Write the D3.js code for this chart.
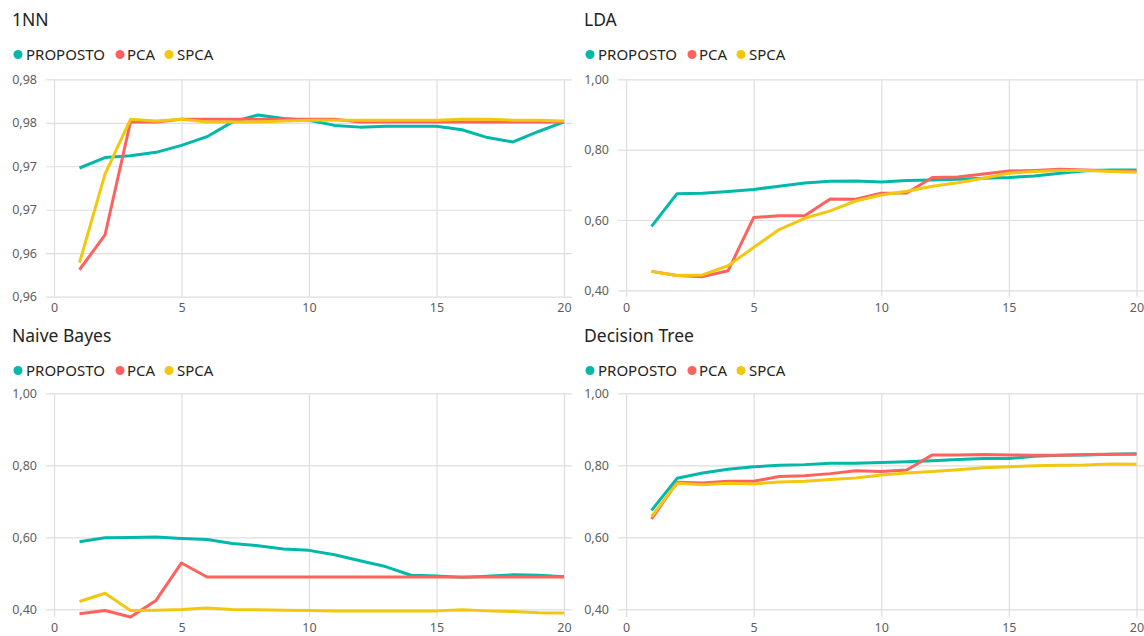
<!DOCTYPE html>
<html>
<head>
<meta charset="utf-8">
<script src="https://cdn.jsdelivr.net/npm/d3@7"></script>
<style>
  html, body { margin: 0; padding: 0; background: #ffffff; }
  svg { display: block; font-family: "Segoe UI", "Noto Sans", "Open Sans", sans-serif; }
</style>
</head>
<body>
<svg id="chart" width="1144" height="636"></svg>
<script>
// Number of components on the x axis
const components = d3.range(1, 21);
const xTicks = [0, 5, 10, 15, 20];
const seriesNames = ["PROPOSTO", "PCA", "SPCA"];
const seriesColors = ["#01B8AA", "#FD625E", "#F2C80F"];

// 1NN accuracy
const nnProposto = [0.9748, 0.9760, 0.9762, 0.9766, 0.9774, 0.9784, 0.9801, 0.9809, 0.9805, 0.9803,
                    0.9797, 0.9795, 0.9796, 0.9796, 0.9796, 0.9792, 0.9783, 0.9778, 0.9790, 0.9801];
const nnPca      = [0.9631, 0.9671, 0.9801, 0.9801, 0.9804, 0.9804, 0.9804, 0.9804, 0.9804, 0.9804,
                    0.9804, 0.9801, 0.9801, 0.9801, 0.9801, 0.9801, 0.9801, 0.9801, 0.9801, 0.9801];
const nnSpca     = [0.9639, 0.9741, 0.9804, 0.9802, 0.9804, 0.9801, 0.9801, 0.9801, 0.9802, 0.9803,
                    0.9803, 0.9803, 0.9803, 0.9803, 0.9803, 0.9804, 0.9804, 0.9803, 0.9803, 0.9802];
const nnTicks = [0.96, 0.965, 0.97, 0.975, 0.98, 0.985];

// LDA accuracy
const ldaProposto = [0.582, 0.675, 0.676, 0.681, 0.687, 0.696, 0.705, 0.710, 0.711, 0.708,
                     0.712, 0.714, 0.716, 0.719, 0.721, 0.725, 0.733, 0.740, 0.742, 0.742];
const ldaPca      = [0.454, 0.442, 0.439, 0.456, 0.607, 0.612, 0.612, 0.660, 0.659, 0.676,
                     0.677, 0.721, 0.722, 0.731, 0.739, 0.741, 0.744, 0.742, 0.740, 0.739];
const ldaSpca     = [0.454, 0.442, 0.444, 0.470, 0.522, 0.573, 0.605, 0.626, 0.654, 0.671,
                     0.682, 0.696, 0.706, 0.719, 0.733, 0.738, 0.741, 0.741, 0.738, 0.736];

// Naive Bayes accuracy
const nbProposto = [0.588, 0.599, 0.600, 0.601, 0.597, 0.594, 0.583, 0.577, 0.568, 0.564,
                    0.552, 0.535, 0.519, 0.495, 0.493, 0.489, 0.492, 0.496, 0.495, 0.491];
const nbPca      = [0.388, 0.397, 0.379, 0.425, 0.529, 0.490, 0.490, 0.490, 0.490, 0.490,
                    0.490, 0.490, 0.490, 0.490, 0.490, 0.490, 0.490, 0.490, 0.490, 0.490];
const nbSpca     = [0.422, 0.445, 0.397, 0.398, 0.400, 0.404, 0.400, 0.399, 0.398, 0.397,
                    0.396, 0.396, 0.396, 0.396, 0.396, 0.399, 0.396, 0.394, 0.391, 0.390];

// Decision Tree accuracy
const dtProposto = [0.675, 0.764, 0.779, 0.789, 0.796, 0.800, 0.802, 0.806, 0.806, 0.808,
                    0.810, 0.813, 0.816, 0.819, 0.819, 0.825, 0.828, 0.829, 0.831, 0.832];
const dtPca      = [0.651, 0.753, 0.751, 0.756, 0.756, 0.769, 0.771, 0.777, 0.785, 0.783,
                    0.787, 0.829, 0.829, 0.830, 0.829, 0.828, 0.828, 0.830, 0.831, 0.831];
const dtSpca     = [0.658, 0.750, 0.746, 0.750, 0.748, 0.754, 0.756, 0.761, 0.765, 0.773,
                    0.779, 0.783, 0.788, 0.793, 0.796, 0.799, 0.800, 0.801, 0.804, 0.803];

const accTicks = [0.4, 0.6, 0.8, 1.0];

// Portuguese number format: comma as decimal separator
const locale = d3.formatLocale({ decimal: ",", thousands: ".", grouping: [3], currency: ["", ""] });
const fmt = locale.format(".2f");

const panels = [
  { title: "1NN", col: 0, row: 0, series: [nnProposto, nnPca, nnSpca], ticks: nnTicks, domain: [0.96, 0.985] },
  { title: "LDA", col: 1, row: 0, series: [ldaProposto, ldaPca, ldaSpca], ticks: accTicks, domain: [0.382, 1.0] },
  { title: "Naive Bayes", col: 0, row: 1, series: [nbProposto, nbPca, nbSpca], ticks: accTicks, domain: [0.379, 1.0] },
  { title: "Decision Tree", col: 1, row: 1, series: [dtProposto, dtPca, dtSpca], ticks: accTicks, domain: [0.379, 1.0] }
];

// Panel geometry
const colLeft = [0, 572];
const rowTop = [0, 316];
const plotX = [54, 564];        // x=0 .. x=20 within left column
const gridX = [46, 572];        // horizontal gridline extent
const plotY = [[79.3, 296.7], [393.3, 617]];

const svg = d3.select("#chart");

panels.forEach(p => {
  const ox = colLeft[p.col];
  const oy = rowTop[p.row];
  const g = svg.append("g");

  const x = d3.scaleLinear().domain([0, 20]).range([ox + plotX[0], ox + plotX[1] + (p.col ? 0.5 : 0)]);
  const y = d3.scaleLinear().domain(p.domain).range([plotY[p.row][1], plotY[p.row][0]]);
  const top = plotY[p.row][0], bottom = plotY[p.row][1];

  // Title
  g.append("text")
    .attr("x", ox + 12).attr("y", oy + 26)
    .attr("font-size", 17.5).attr("fill", "#252423")
    .text(p.title);

  // Legend
  const legendPos = [[18, 26], [120, 127], [169, 177]];
  seriesNames.forEach((name, i) => {
    g.append("circle")
      .attr("cx", ox + legendPos[i][0]).attr("cy", oy + 54.5).attr("r", 4.5)
      .attr("fill", seriesColors[i]);
    g.append("text")
      .attr("x", ox + legendPos[i][1]).attr("y", oy + 60)
      .attr("font-size", 15).attr("fill", "#252423")
      .text(name);
  });

  // Horizontal gridlines + y labels
  const yAxis = d3.axisLeft(y).tickValues(p.ticks).tickFormat(fmt)
    .tickSize(-(gridX[1] - gridX[0])).tickPadding(9);
  const ya = g.append("g").attr("transform", `translate(${ox + gridX[0]},0)`).call(yAxis);
  ya.select(".domain").remove();
  ya.selectAll(".tick line").attr("stroke", "#dedede").attr("stroke-width", 1.2);
  ya.selectAll(".tick text").attr("font-size", 12.5).attr("fill", "#605E5C")
    .attr("font-family", "\"Segoe UI\", \"Noto Sans\", \"Open Sans\", sans-serif");

  // Vertical gridlines + x labels
  const xAxis = d3.axisBottom(x).tickValues(xTicks).tickFormat(d3.format("d"))
    .tickSize(-(bottom - top)).tickPadding(6);
  const xa = g.append("g").attr("transform", `translate(0,${bottom})`).call(xAxis);
  xa.select(".domain").remove();
  xa.selectAll(".tick line").attr("stroke", "#dedede").attr("stroke-width", 1.2);
  xa.selectAll(".tick text").attr("font-size", 12.5).attr("fill", "#605E5C")
    .attr("font-family", "\"Segoe UI\", \"Noto Sans\", \"Open Sans\", sans-serif");

  // Series lines
  const line = d3.line().x((d, i) => x(components[i])).y(d => y(d));
  p.series.forEach((vals, i) => {
    g.append("path")
      .datum(vals)
      .attr("fill", "none")
      .attr("stroke", seriesColors[i])
      .attr("stroke-width", 3)
      .attr("stroke-linejoin", "round")
      .attr("d", line);
  });
});
</script>
</body>
</html>
